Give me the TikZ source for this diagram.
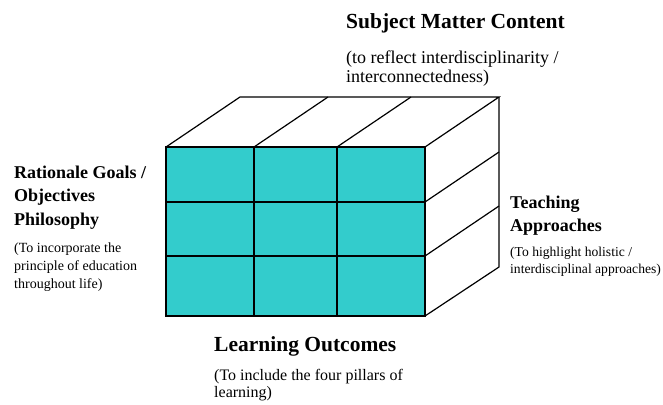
\documentclass[tikz,border=0pt]{standalone}
\usepackage{fontspec}
\setmainfont{Liberation Serif}
\definecolor{cubeteal}{HTML}{33CCCC}
\tikzset{
  edge/.style={draw=black, line width=1.2pt, line join=miter},
  headtxt/.style={anchor=base west, inner sep=0pt, align=left, font=\bfseries\fontsize{#1}{23.5}\selectfont},
  subtxt/.style={anchor=base west, inner sep=0pt, align=left, font=\fontsize{14}{18}\selectfont},
}
\begin{document}
\begin{tikzpicture}[x=1pt,y=-1pt]
\useasboundingbox (0,0) rectangle (663,404);
% cube corners
\coordinate (fa) at (166,147);
\coordinate (fb) at (425,147);
\coordinate (fc) at (425,316);
\coordinate (fd) at (166,316);
\coordinate (ba) at (240,97);
\coordinate (bb) at (499,97);
\coordinate (bc) at (499,267);
% faces
\fill[white] (fa) -- (ba) -- (bb) -- (fb) -- cycle;
\fill[white] (fb) -- (bb) -- (bc) -- (fc) -- cycle;
\fill[cubeteal] (fa) rectangle (fc);
% front grid
\draw[edge] (fa) rectangle (fc);
\draw[edge] (254,147) coordinate (c1) -- (254,316);
\draw[edge] (337,147) coordinate (c2) -- (337,316);
\draw[edge] (166,202) -- (425,202) coordinate (r1);
\draw[edge] (166,256) -- (425,256) coordinate (r2);
% top face
\draw[edge] (fa) -- (ba) -- (bb) -- (fb);
\draw[edge] (c1) -- ++(74,-50);
\draw[edge] (c2) -- ++(74,-50);
% right face
\draw[edge] (bb) -- (bc) -- (fc);
\draw[edge] (r1) -- ++(74,-50);
\draw[edge] (r2) -- ++(74,-50);
% labels (base = baseline of the last line)
\node[headtxt=21.5] (smc) at (346,29) {Subject Matter Content};
\node[anchor=base west, inner sep=0pt, align=left, font=\fontsize{18}{19}\selectfont] (smcsub) at (346,82) {(to reflect interdisciplinarity /\\interconnectedness)};
\node[headtxt=18] (rg) at (14,225) {Rationale Goals /\\Objectives\\Philosophy};
\node[subtxt] (rgsub) at (14,288) {(To incorporate the\\principle of education\\throughout life)};
\node[headtxt=18] (ta) at (510,231.5) {Teaching\\Approaches};
\node[anchor=base west, inner sep=0pt, align=left, font=\fontsize{13.6}{16.5}\selectfont] (tasub) at (510,273) {(To highlight holistic /\\interdisciplinal approaches)};
\node[headtxt=21.5] (lo) at (214,351) {Learning Outcomes};
\node[anchor=base west, inner sep=0pt, align=left, font=\fontsize{16}{17}\selectfont] (losub) at (214,397) {(To include the four pillars of\\learning)};
\end{tikzpicture}
\end{document}
